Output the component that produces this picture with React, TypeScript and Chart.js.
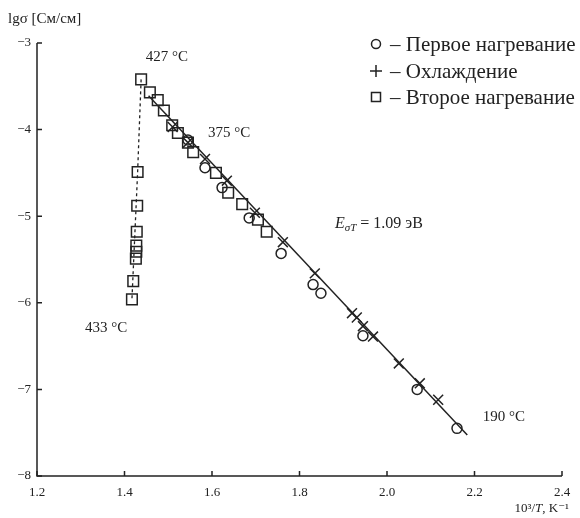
import React, { useEffect, useRef } from "react";
import { Chart, registerables } from "chart.js";

Chart.register(...registerables);

// First heating (circles)
const heat1X = [1.545, 1.584, 1.623, 1.685, 1.758, 1.831, 1.849, 1.945, 2.069, 2.160];
const heat1Y = [-4.12, -4.44, -4.67, -5.02, -5.43, -5.79, -5.89, -6.38, -7.00, -7.45];

// Cooling (crosses)
const coolX = [1.51, 1.545, 1.584, 1.634, 1.698, 1.762, 1.835, 1.92, 1.931, 1.945, 1.968, 2.027, 2.075, 2.117];
const coolY = [-3.97, -4.15, -4.34, -4.59, -4.96, -5.30, -5.66, -6.12, -6.17, -6.27, -6.39, -6.70, -6.93, -7.12];

// Second heating (squares)
const heat2X = [1.417, 1.42, 1.426, 1.427, 1.427, 1.428, 1.429, 1.43, 1.438, 1.458, 1.476, 1.49, 1.509, 1.522, 1.545, 1.557, 1.609, 1.637, 1.669, 1.705, 1.725];
const heat2Y = [-5.96, -5.75, -5.49, -5.41, -5.34, -5.18, -4.88, -4.49, -3.42, -3.57, -3.66, -3.78, -3.95, -4.04, -4.15, -4.26, -4.50, -4.73, -4.86, -5.04, -5.18];

// Fitted line (E = 1.09 eV)
const fitX = [1.455, 2.1835];
const fitY = [-3.61, -7.527];

// Dashed vertical drop
const dashX = [1.438, 1.43, 1.417];
const dashY = [-3.42, -4.49, -5.96];

const xTicks = [1.2, 1.4, 1.6, 1.8, 2.0, 2.2, 2.4];
const yTicks = [-8, -7, -6, -5, -4, -3];

const legendLabels = ["– Первое нагревание", "– Охлаждение", "– Второе нагревание"];
const tempLabels = [
  { text: "427 °C", x: 1.497, y: -3.16 },
  { text: "375 °C", x: 1.639, y: -4.04 },
  { text: "433 °C", x: 1.358, y: -6.29 },
  { text: "190 °C", x: 2.267, y: -7.32 },
];
const energyLabel = { x: 1.881, y: -5.09, value: " = 1.09 эВ" };

const SERIF = "'Liberation Serif', 'DejaVu Serif', serif";
const INK = "#222";

const pts = (xs: number[], ys: number[]) => xs.map((x, i) => ({ x, y: ys[i] }));

const decorPlugin = {
  id: "decor",
  afterDraw(chart: any) {
    const { ctx, chartArea } = chart;
    const xs = chart.scales.x;
    const ys = chart.scales.y;
    ctx.save();
    ctx.strokeStyle = INK;
    ctx.lineWidth = 1.5;
    // axes
    ctx.beginPath();
    ctx.moveTo(chartArea.left, chartArea.top);
    ctx.lineTo(chartArea.left, chartArea.bottom);
    ctx.lineTo(chartArea.right, chartArea.bottom);
    ctx.stroke();
    // inward ticks
    ctx.beginPath();
    xTicks.forEach((v) => {
      const px = xs.getPixelForValue(v);
      ctx.moveTo(px, chartArea.bottom);
      ctx.lineTo(px, chartArea.bottom - 5);
    });
    yTicks.forEach((v) => {
      const py = ys.getPixelForValue(v);
      ctx.moveTo(chartArea.left, py);
      ctx.lineTo(chartArea.left + 5, py);
    });
    ctx.stroke();

    ctx.fillStyle = INK;
    ctx.textBaseline = "middle";
    // y-axis title
    ctx.font = `15px ${SERIF}`;
    ctx.textAlign = "left";
    ctx.fillText("lgσ [См/см]", 8, 19);

    // temperature annotations
    ctx.font = `15px ${SERIF}`;
    ctx.textAlign = "center";
    tempLabels.forEach((t) => {
      ctx.fillText(t.text, xs.getPixelForValue(t.x), ys.getPixelForValue(t.y));
    });

    // energy label
    let ex = xs.getPixelForValue(energyLabel.x);
    const ey = ys.getPixelForValue(energyLabel.y);
    ctx.textAlign = "left";
    ctx.font = `italic 16px ${SERIF}`;
    ctx.fillText("E", ex, ey);
    ex += ctx.measureText("E").width;
    ctx.font = `italic 11px ${SERIF}`;
    ctx.fillText("σT", ex, ey + 4);
    ex += ctx.measureText("σT").width;
    ctx.font = `16px ${SERIF}`;
    ctx.fillText(energyLabel.value, ex, ey);

    // x-axis title
    const parts = [
      { t: "10³/", f: `13px ${SERIF}` },
      { t: "T", f: `italic 13px ${SERIF}` },
      { t: ", K⁻¹", f: `13px ${SERIF}` },
    ];
    let total = 0;
    parts.forEach((p) => {
      ctx.font = p.f;
      total += ctx.measureText(p.t).width;
    });
    let tx = chartArea.right + 7 - total;
    parts.forEach((p) => {
      ctx.font = p.f;
      ctx.fillText(p.t, tx, 509);
      tx += ctx.measureText(p.t).width;
    });

    // legend
    const lx = 376;
    const rows = [44, 71, 97];
    ctx.lineWidth = 1.5;
    ctx.beginPath();
    ctx.arc(lx, rows[0], 4.5, 0, Math.PI * 2);
    ctx.stroke();
    ctx.beginPath();
    ctx.moveTo(lx - 6, rows[1]);
    ctx.lineTo(lx + 6, rows[1]);
    ctx.moveTo(lx, rows[1] - 6);
    ctx.lineTo(lx, rows[1] + 6);
    ctx.stroke();
    ctx.strokeRect(lx - 4.5, rows[2] - 4.5, 9, 9);
    ctx.font = `21px ${SERIF}`;
    ctx.textAlign = "left";
    legendLabels.forEach((l, i) => ctx.fillText(l, 390, rows[i] + 1));
    ctx.restore();
  },
};

export default function App() {
  const ref = useRef<HTMLCanvasElement | null>(null);
  useEffect(() => {
    document.body.style.margin = "0";
    const canvas = ref.current;
    if (!canvas) return;
    const chart = new Chart(canvas, {
      type: "scatter",
      data: {
        datasets: [
          {
            label: "fit",
            data: pts(fitX, fitY),
            showLine: true,
            borderColor: INK,
            borderWidth: 1.5,
            pointRadius: 0,
            fill: false,
          },
          {
            label: "dash",
            data: pts(dashX, dashY),
            showLine: true,
            borderColor: INK,
            borderWidth: 1.3,
            borderDash: [3, 3],
            pointRadius: 0,
            fill: false,
          },
          {
            label: "Первое нагревание",
            data: pts(heat1X, heat1Y),
            pointStyle: "circle",
            pointRadius: 5,
            borderColor: INK,
            borderWidth: 1.5,
            backgroundColor: "rgba(0,0,0,0)",
          },
          {
            label: "Охлаждение",
            data: pts(coolX, coolY),
            pointStyle: "crossRot",
            pointRadius: 7,
            borderColor: INK,
            borderWidth: 1.5,
            backgroundColor: "rgba(0,0,0,0)",
          },
          {
            label: "Второе нагревание",
            data: pts(heat2X, heat2Y),
            pointStyle: "rect",
            pointRadius: 7.5,
            borderColor: INK,
            borderWidth: 1.5,
            backgroundColor: "rgba(0,0,0,0)",
          },
        ],
      },
      options: {
        responsive: false,
        animation: false,
        layout: { padding: { top: 43, right: 18, left: 0, bottom: 0 } },
        plugins: { legend: { display: false }, tooltip: { enabled: false } },
        scales: {
          x: {
            type: "linear",
            min: 1.2,
            max: 2.4,
            afterBuildTicks: (s: any) => {
              s.ticks = xTicks.map((v) => ({ value: v }));
            },
            ticks: {
              callback: (v: any) => Number(v).toFixed(1),
              font: { family: SERIF, size: 13 },
              color: INK,
              padding: 9,
              maxRotation: 0,
              autoSkip: false,
            },
            grid: { display: false, drawTicks: false },
            border: { display: false },
            afterFit: (s: any) => {
              s.height = 42;
            },
          },
          y: {
            type: "linear",
            min: -8,
            max: -3,
            afterBuildTicks: (s: any) => {
              s.ticks = yTicks.map((v) => ({ value: v }));
            },
            ticks: {
              callback: (v: any) => "−" + Math.abs(Number(v)),
              font: { family: SERIF, size: 13 },
              color: INK,
              padding: 6,
              autoSkip: false,
            },
            grid: { display: false, drawTicks: false },
            border: { display: false },
            afterFit: (s: any) => {
              s.width = 37;
            },
          },
        },
      },
      plugins: [decorPlugin],
    });
    return () => chart.destroy();
  }, []);
  return (
    <div style={{ position: "absolute", left: 0, top: 0, width: 580, height: 518, background: "#fff" }}>
      <canvas ref={ref} width={580} height={518} />
    </div>
  );
}
